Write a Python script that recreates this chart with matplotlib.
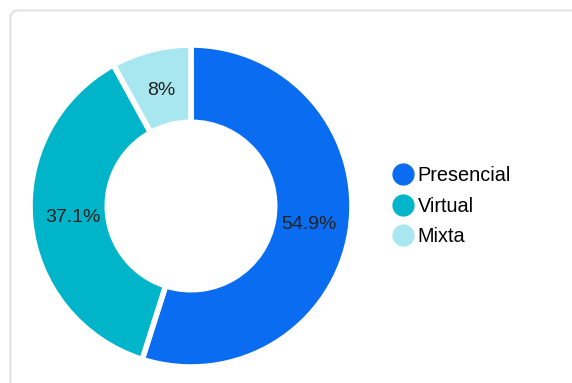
import numpy as np
import matplotlib.pyplot as plt
from matplotlib.lines import Line2D

plt.rcParams['font.family'] = ['Liberation Sans', 'DejaVu Sans']

labels = ["Presencial", "Virtual", "Mixta"]
values = [54.9, 37.1, 8.0]
pct_text = ["54.9%", "37.1%", "8%"]
colors = ["#0a6cf0", "#00b5c9", "#a9e7f0"]

W, H = 572, 383
fig = plt.figure(figsize=(W / 100, H / 100), dpi=100)

# card border: only left and top edges with a rounded corner (pixel coords)
rc = 7
x0, ytop = 10.5, H - 10.5
ang = np.linspace(np.pi, np.pi / 2, 12)
bx = np.concatenate([[x0], x0 + rc + rc * np.cos(ang), [W + 5]])
by = np.concatenate([[-5], ytop - rc + rc * np.sin(ang), [ytop]])
fig.add_artist(Line2D(bx, by, transform=None, color="#e3e3e3", linewidth=1.5))

# pie axes: centre ~ (191, 206), radius ~161 px
cx, cy, r = 191, 206, 161
ax = fig.add_axes([(cx - r) / W, (H - cy - r) / H, 2 * r / W, 2 * r / H])
ax.patch.set_alpha(0)
wedges, _ = ax.pie(values, colors=colors, startangle=90, counterclock=False,
                   radius=1.0,
                   wedgeprops=dict(width=0.48, edgecolor="white", linewidth=4))
ax.set_aspect("equal")
ax.set_xlim(-1, 1)
ax.set_ylim(-1, 1)

start = 90
for v, t in zip(values, pct_text):
    mid = start - v / 100 * 360 / 2
    start -= v / 100 * 360
    rr = 0.74
    ax.text(rr * np.cos(np.radians(mid)), rr * np.sin(np.radians(mid)), t,
            ha="center", va="center", fontsize=14, color="#222222")

handles = [Line2D([], [], marker="o", linestyle="", markersize=15,
                  markerfacecolor=c, markeredgecolor=c) for c in colors]
fig.legend(handles, labels, loc="center left",
           bbox_to_anchor=(383 / W, 1 - 206 / H),
           frameon=False, fontsize=14.3, handletextpad=0.15,
           labelspacing=0.56, handlelength=1.2, borderaxespad=0)

fig.savefig("out.png", dpi=100)
